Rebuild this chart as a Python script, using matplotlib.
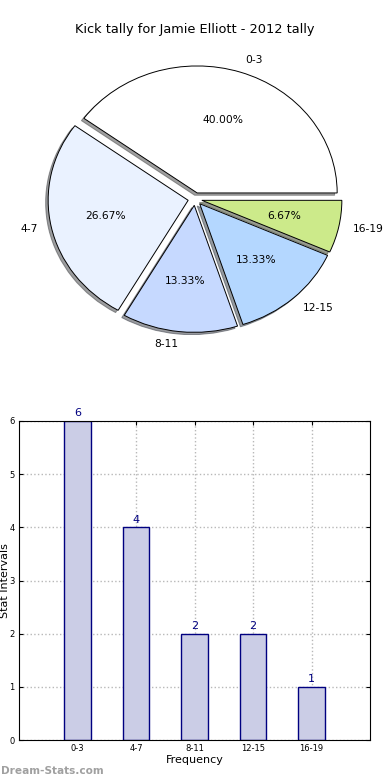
import matplotlib
matplotlib.use("Agg")
import matplotlib.pyplot as plt

categories = ["0-3", "4-7", "8-11", "12-15", "16-19"]
counts = [6, 4, 2, 2, 1]
pie_colors = ["#ffffff", "#eaf2ff", "#c6d9ff", "#b4d7ff", "#ccea8a"]
title = "Kick tally for Jamie Elliott - 2012 tally"

W, H = 390, 780
fig = plt.figure(figsize=(W / 100, H / 100), dpi=100)

# ---- Pie ----
cx, cy = 195, 199
rx, ry = 140, 127
lim = 1.3
axp = fig.add_axes([(cx - lim * rx) / W, 1 - (cy + lim * ry) / H,
                    2 * lim * rx / W, 2 * lim * ry / H])
axp.pie(counts, labels=categories, colors=pie_colors, explode=[0.05] * 5,
        autopct="%1.2f%%", shadow=dict(ox=-0.013, oy=-0.013, shade=0.75),
        startangle=0,
        wedgeprops=dict(edgecolor="black", linewidth=0.7),
        textprops=dict(fontsize=7.7))
axp.set_aspect("auto")
axp.set_xlim(-lim, lim)
axp.set_ylim(-lim, lim)
axp.axis("off")
fig.text(195 / W, 1 - 30 / H, title, ha="center", va="center", fontsize=9.3)

# ---- Bars ----
axb = fig.add_axes([19 / W, 1 - 740 / H, 351 / W, 319 / H])
x = list(range(len(categories)))
bars = axb.bar(x, counts, width=0.45, color="#cbcde6", edgecolor="#000080",
               linewidth=1.0, zorder=2)
for xi, c in zip(x, counts):
    axb.text(xi, c + 0.05, str(c), ha="center", va="bottom", color="#000080",
             fontsize=8)
axb.set_xlim(-1, 5)
axb.set_ylim(0, 6)
axb.set_xticks(x)
axb.set_xticklabels(categories, fontsize=6)
axb.set_yticks(range(7))
axb.tick_params(axis="y", labelsize=6)
axb.tick_params(direction="in", top=True, right=True, length=3, pad=3)
axb.grid(True, linestyle=":", color="#b8b8b8", linewidth=1.0, zorder=0)
axb.set_axisbelow(True)
axb.set_xlabel("Frequency", fontsize=8, labelpad=1)
axb.set_ylabel("Stat Intervals", fontsize=8, va="center")
axb.yaxis.set_label_coords(-14 / 351, 0.5)

fig.text(0.5 / W, 1 - 771 / H, "Dream-Stats.com", ha="left", va="center",
         fontsize=7.6, color="#a0a0a0", fontweight="bold")

fig.savefig("out.png", dpi=100)
